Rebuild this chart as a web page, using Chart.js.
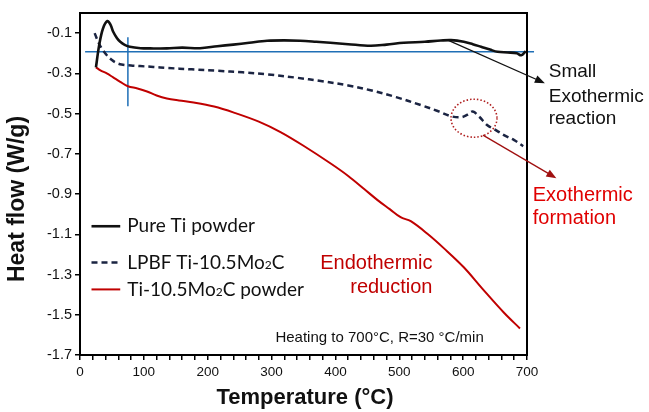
<!DOCTYPE html>
<html>
<head>
<meta charset="utf-8">
<script src="https://cdn.jsdelivr.net/npm/chart.js@4.4.1/dist/chart.umd.min.js"></script>
<style>
  html, body { margin: 0; padding: 0; background: #fff; }
  #wrap { width: 649px; height: 412px; }
</style>
</head>
<body>
<div id="wrap"><canvas id="canvas" width="649" height="412"></canvas></div>
<script>
// values
var tiTemp = [25, 30, 36, 43, 48, 52, 58, 63, 70, 78, 95, 110, 136, 160, 188, 215, 240, 265, 293, 320, 345, 370, 392, 420, 455, 480, 507, 540, 565, 581, 601, 615, 628, 642, 654, 670, 684, 691, 698];
var tiFlow = [-0.27, -0.16, -0.077, -0.04, -0.06, -0.093, -0.125, -0.143, -0.158, -0.168, -0.175, -0.176, -0.176, -0.172, -0.175, -0.165, -0.157, -0.148, -0.138, -0.136, -0.138, -0.143, -0.148, -0.155, -0.163, -0.157, -0.148, -0.143, -0.137, -0.135, -0.143, -0.155, -0.168, -0.182, -0.193, -0.196, -0.2, -0.21, -0.19];

var lpbfTemp = [23, 28, 34, 42, 50, 57, 65, 80, 94, 115, 136, 175, 215, 255, 293, 340, 377, 420, 455, 495, 534, 560, 581, 597, 607, 615, 625, 638, 650, 664, 680, 694];
var lpbfFlow = [-0.1, -0.14, -0.176, -0.21, -0.234, -0.248, -0.256, -0.261, -0.264, -0.268, -0.273, -0.28, -0.287, -0.295, -0.305, -0.322, -0.338, -0.36, -0.384, -0.418, -0.458, -0.487, -0.513, -0.518, -0.505, -0.49, -0.515, -0.558, -0.58, -0.607, -0.632, -0.662];

var powTemp = [25, 32, 42, 52, 63, 75, 90, 105, 120, 136, 155, 178, 210, 241, 280, 314, 350, 392, 420, 445, 466, 485, 502, 518, 545, 570, 601, 630, 664, 689];
var powFlow = [-0.27, -0.285, -0.3, -0.32, -0.342, -0.364, -0.375, -0.39, -0.41, -0.425, -0.435, -0.445, -0.465, -0.495, -0.54, -0.592, -0.66, -0.747, -0.81, -0.875, -0.93, -0.975, -1.015, -1.035, -1.1, -1.17, -1.264, -1.37, -1.49, -1.568];

// blue guide lines
var hLineTemp = [8, 711];
var hLineFlow = [-0.193, -0.193];
var vLineTemp = [75, 75];
var vLineFlow = [-0.12, -0.463];

var yTicks = [-1.7, -1.5, -1.3, -1.1, -0.9, -0.7, -0.5, -0.3, -0.1];
var xLabels = [0, 100, 200, 300, 400, 500, 600, 700];

var seriesNames = ["Pure Ti powder", "LPBF Ti-10.5Mo2C", "Ti-10.5Mo2C powder"];

function pts(xs, ys) {
  var out = [];
  for (var i = 0; i < xs.length; i++) out.push({ x: xs[i], y: ys[i] });
  return out;
}

var RED = "#c00000";
var NAVY = "#1b2442";
var BLUE = "#1f6fb6";

// draws "Mo2C" style text with a small 2
function drawChem(ctx, txt, x, y, size, fam) {
  var parts = txt.split(/(2C)/);
  ctx.textAlign = "left";
  ctx.textBaseline = "middle";
  for (var i = 0; i < parts.length; i++) {
    if (parts[i] === "2C") {
      ctx.font = Math.round(size * 0.62) + "px " + fam;
      ctx.fillText("2", x, y + size * 0.14);
      x += ctx.measureText("2").width;
      ctx.font = size + "px " + fam;
      ctx.fillText("C", x, y);
      x += ctx.measureText("C").width;
    } else {
      ctx.font = size + "px " + fam;
      ctx.fillText(parts[i], x, y);
      x += ctx.measureText(parts[i]).width;
    }
  }
}

function arrow(ctx, x1, y1, x2, y2, col) {
  var a = Math.atan2(y2 - y1, x2 - x1);
  ctx.strokeStyle = col;
  ctx.fillStyle = col;
  ctx.lineWidth = 1.3;
  ctx.beginPath();
  ctx.moveTo(x1, y1);
  ctx.lineTo(x2 - 6 * Math.cos(a), y2 - 6 * Math.sin(a));
  ctx.stroke();
  ctx.beginPath();
  ctx.moveTo(x2, y2);
  ctx.lineTo(x2 - 10 * Math.cos(a) + 4 * Math.sin(a), y2 - 10 * Math.sin(a) - 4 * Math.cos(a));
  ctx.lineTo(x2 - 10 * Math.cos(a) - 4 * Math.sin(a), y2 - 10 * Math.sin(a) + 4 * Math.cos(a));
  ctx.closePath();
  ctx.fill();
}

var extras = {
  id: "extras",
  afterDraw: function (chart) {
    var ctx = chart.ctx;
    var xs = chart.scales.x, ys = chart.scales.y;
    var a = chart.chartArea;
    var X = function (v) { return xs.getPixelForValue(v); };
    var Y = function (v) { return ys.getPixelForValue(v); };
    ctx.save();

    // box
    ctx.strokeStyle = "#000";
    ctx.lineWidth = 2;
    ctx.strokeRect(a.left, a.top, a.right - a.left, a.bottom - a.top);

    // legend inside plot
    var legY = [-1.06, -1.24, -1.374];
    var ds = chart.data.datasets;
    for (var i = 0; i < 3; i++) {
      ctx.strokeStyle = ds[i].borderColor;
      ctx.lineWidth = ds[i].borderWidth;
      ctx.setLineDash(ds[i].borderDash || []);
      ctx.beginPath();
      ctx.moveTo(X(18), Y(legY[i]));
      ctx.lineTo(X(63), Y(legY[i]));
      ctx.stroke();
      ctx.setLineDash([]);
      ctx.fillStyle = "#111";
      drawChem(ctx, seriesNames[i], X(74), Y(legY[i]), 19, "Lato, 'Open Sans', sans-serif");
    }

    // small exothermic reaction
    arrow(ctx, X(576), Y(-0.135), X(728), Y(-0.349), "#111");
    ctx.fillStyle = "#111";
    ctx.font = "19px 'Liberation Sans', Arial, sans-serif";
    ctx.textAlign = "left";
    ctx.textBaseline = "middle";
    ctx.fillText("Small", X(734), Y(-0.294));
    ctx.fillText("Exothermic", X(734), Y(-0.418));
    ctx.fillText("reaction", X(734), Y(-0.528));

    // dotted circle + red arrow
    ctx.strokeStyle = "#b02020";
    ctx.lineWidth = 1.6;
    ctx.setLineDash([1.5, 2]);
    ctx.beginPath();
    ctx.ellipse(X(617), Y(-0.523), X(617) - X(581), Y(-0.523 - 0.0945) - Y(-0.523), 0, 0, Math.PI * 2);
    ctx.stroke();
    ctx.setLineDash([]);
    arrow(ctx, X(631), Y(-0.607), X(746), Y(-0.821), "#a01010");
    ctx.fillStyle = "#e00000";
    ctx.font = "20px 'Liberation Sans', Arial, sans-serif";
    ctx.fillText("Exothermic", X(709), Y(-0.906));
    ctx.fillText("formation", X(709), Y(-1.02));

    // endothermic reduction
    ctx.fillStyle = RED;
    ctx.textAlign = "right";
    ctx.font = "20px 'Liberation Sans', Arial, sans-serif";
    ctx.fillText("Endothermic", X(552), Y(-1.244));
    ctx.fillText("reduction", X(552), Y(-1.364));

    // heating note
    ctx.fillStyle = "#111";
    ctx.font = "15px 'Liberation Sans', Arial, sans-serif";
    ctx.textAlign = "left";
    ctx.fillText("Heating to 700\u00b0C, R=30 \u00b0C/min", X(306), Y(-1.617));

    // axis titles
    ctx.font = "bold 22px 'Liberation Sans', Arial, sans-serif";
    ctx.textAlign = "center";
    ctx.fillText("Temperature (\u00b0C)", 305, 398);
    ctx.translate(18, 199);
    ctx.rotate(-Math.PI / 2);
    ctx.font = "bold 23px 'Liberation Sans', Arial, sans-serif";
    ctx.fillText("Heat flow (W/g)", 0, 0);
    ctx.restore();
  }
};

var ctx = document.getElementById("canvas").getContext("2d");
new Chart(ctx, {
  type: "line",
  data: {
    datasets: [
      { label: seriesNames[0], data: pts(tiTemp, tiFlow), borderColor: "#111", borderWidth: 2.6, pointRadius: 0, tension: 0.35, fill: false },
      { label: seriesNames[1], data: pts(lpbfTemp, lpbfFlow), borderColor: NAVY, borderWidth: 2.5, borderDash: [6, 4], pointRadius: 0, tension: 0.35, fill: false },
      { label: seriesNames[2], data: pts(powTemp, powFlow), borderColor: RED, borderWidth: 2, pointRadius: 0, tension: 0.35, fill: false },
      { label: "h", data: pts(hLineTemp, hLineFlow), borderColor: BLUE, borderWidth: 1.5, pointRadius: 0, clip: false },
      { label: "v", data: pts(vLineTemp, vLineFlow), borderColor: BLUE, borderWidth: 1.5, pointRadius: 0 }
    ]
  },
  options: {
    responsive: false,
    animation: false,
    layout: { padding: { left: 0, top: 13, right: 122, bottom: 0 } },
    plugins: { legend: { display: false }, tooltip: { enabled: false } },
    scales: {
      x: {
        type: "linear",
        min: 0,
        max: 700,
        grid: { display: true, drawOnChartArea: false, tickLength: 5, color: "#000", lineWidth: 1.5 },
        border: { color: "#000", width: 2 },
        ticks: {
          stepSize: 20,
          autoSkip: false,
          maxRotation: 0,
          padding: 4,
          color: "#111",
          font: { size: 13.5, family: "'Liberation Sans', Arial, sans-serif" },
          callback: function (v) { return xLabels.indexOf(v) >= 0 ? String(v) : ""; }
        },
        afterFit: function (s) { s.height = 57; }
      },
      y: {
        min: -1.7,
        max: 0,
        grid: { display: true, drawOnChartArea: false, tickLength: 5, color: "#000", lineWidth: 1.5 },
        border: { color: "#000", width: 2 },
        afterBuildTicks: function (s) { s.ticks = yTicks.map(function (v) { return { value: v }; }); },
        ticks: {
          padding: 3,
          color: "#111",
          font: { size: 14.5, family: "'Liberation Sans', Arial, sans-serif" },
          callback: function (v) { return v.toFixed(1); }
        },
        afterFit: function (s) { s.width = 80; }
      }
    }
  },
  plugins: [extras]
});
</script>
</body>
</html>
